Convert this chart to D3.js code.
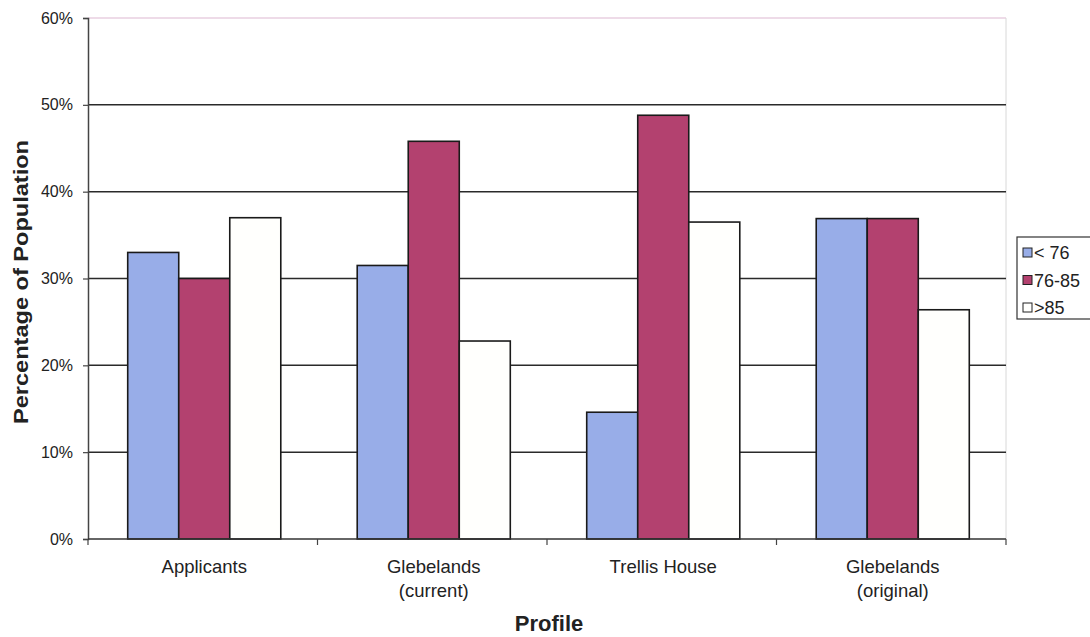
<!DOCTYPE html>
<html>
<head>
<meta charset="utf-8">
<script src="https://cdn.jsdelivr.net/npm/d3@7"></script>
<style>
  html, body { margin: 0; padding: 0; background: #ffffff; }
  svg { display: block; font-family: "Liberation Sans", Arial, sans-serif; }
</style>
</head>
<body>
<svg id="chart" width="1090" height="637"></svg>
<script>
// Population age profile by site
const categories = [["Applicants"], ["Glebelands", "(current)"], ["Trellis House"], ["Glebelands", "(original)"]];
const seriesNames = ["< 76", "76-85", ">85"];
const under76 = [33.0, 31.5, 14.6, 36.9];
const age76to85 = [30.0, 45.8, 48.8, 36.9];
const over85 = [37.0, 22.8, 36.5, 26.4];
const yTicks = [0, 10, 20, 30, 40, 50, 60];

const colors = ["#98ade8", "#b3416f", "#fffffd"];
const seriesValues = [under76, age76to85, over85];

const svg = d3.select("#chart");
const plot = { left: 88, right: 1006, top: 18, bottom: 539 };

const catKeys = categories.map(c => c.join(" "));
const x0 = d3.scaleBand().domain(catKeys).range([plot.left, plot.right]).padding(0);
const groupW = x0.bandwidth() * 0.667;
const x1 = d3.scaleBand().domain(seriesNames).range([0, groupW]).padding(0);
const y = d3.scaleLinear().domain([0, 60]).range([plot.bottom, plot.top]);

// plot frame: faint top and right edges
svg.append("line").attr("x1", plot.left).attr("x2", plot.right)
  .attr("y1", plot.top).attr("y2", plot.top)
  .attr("stroke", "#e8cfe0").attr("stroke-width", 1.5);
svg.append("line").attr("x1", plot.right).attr("x2", plot.right)
  .attr("y1", plot.top).attr("y2", plot.bottom)
  .attr("stroke", "#d8d8d8").attr("stroke-width", 1);

// horizontal gridlines
svg.append("g").selectAll("line")
  .data(yTicks.filter(t => t > 0 && t < 60))
  .join("line")
  .attr("x1", plot.left).attr("x2", plot.right)
  .attr("y1", d => y(d)).attr("y2", d => y(d))
  .attr("stroke", "#2a2a2a").attr("stroke-width", 1.5);

// bars
const groups = svg.append("g").selectAll("g")
  .data(catKeys)
  .join("g")
  .attr("transform", d => `translate(${x0(d) + (x0.bandwidth() - groupW) / 2 + 1.5},0)`);

groups.selectAll("rect")
  .data((d, i) => seriesNames.map((s, j) => ({ s, j, v: seriesValues[j][i] })))
  .join("rect")
  .attr("x", d => x1(d.s))
  .attr("width", x1.bandwidth())
  .attr("y", d => y(d.v))
  .attr("height", d => y(0) - y(d.v))
  .attr("fill", d => colors[d.j])
  .attr("stroke", "#1a1a1a")
  .attr("stroke-width", 1.6);

// y axis
const yAxis = d3.axisLeft(y).tickValues(yTicks).tickFormat(d => d + "%").tickSize(5).tickPadding(10);
const gy = svg.append("g").attr("transform", `translate(${plot.left},0)`).call(yAxis);
gy.attr("font-size", null).attr("font-family", null);
gy.select(".domain").attr("stroke", "#444").attr("stroke-width", 1.5);
gy.selectAll(".tick line").attr("stroke", "#444").attr("stroke-width", 1.2);
gy.selectAll(".tick text").attr("font-size", 16).attr("fill", "#222");

// x axis baseline and category separators
svg.append("line").attr("x1", plot.left).attr("x2", plot.right)
  .attr("y1", plot.bottom).attr("y2", plot.bottom)
  .attr("stroke", "#333").attr("stroke-width", 1.5);
svg.append("g").selectAll("line")
  .data(catKeys.concat(["end"]))
  .join("line")
  .attr("x1", (d, i) => plot.left + i * x0.bandwidth())
  .attr("x2", (d, i) => plot.left + i * x0.bandwidth())
  .attr("y1", plot.bottom).attr("y2", plot.bottom + 6)
  .attr("stroke", "#444").attr("stroke-width", 1.2);

// category labels
const catLabels = svg.append("g").selectAll("text")
  .data(categories)
  .join("text")
  .attr("x", (d, i) => x0(catKeys[i]) + x0.bandwidth() / 2 + 1.5)
  .attr("y", 573)
  .attr("text-anchor", "middle")
  .attr("font-size", 18.5)
  .attr("fill", "#222");
catLabels.selectAll("tspan")
  .data(d => d)
  .join("tspan")
  .attr("x", function () { return this.parentNode.getAttribute("x"); })
  .attr("dy", (d, i) => i === 0 ? 0 : 24)
  .text(d => d);

// axis titles
svg.append("text")
  .attr("x", 549).attr("y", 631)
  .attr("text-anchor", "middle").attr("font-size", 22).attr("font-weight", "bold")
  .attr("fill", "#222").text("Profile");
svg.append("text")
  .attr("transform", `translate(28,282) rotate(-90)`)
  .attr("text-anchor", "middle").attr("font-size", 20).attr("font-weight", "bold")
  .attr("textLength", 284).attr("lengthAdjust", "spacingAndGlyphs")
  .attr("fill", "#222").text("Percentage of Population");

// legend
const legend = svg.append("g").attr("transform", "translate(1017,237)");
legend.append("rect").attr("x", 0).attr("y", 0).attr("width", 80).attr("height", 82)
  .attr("fill", "#fff").attr("stroke", "#333").attr("stroke-width", 1.2);
const items = legend.selectAll("g.item")
  .data(seriesNames)
  .join("g").attr("class", "item")
  .attr("transform", (d, i) => `translate(6,${15 + i * 27.5})`);
items.append("rect").attr("x", 0).attr("y", -4).attr("width", 9).attr("height", 9)
  .attr("fill", (d, i) => colors[i]).attr("stroke", "#222").attr("stroke-width", 1);
items.append("text").attr("x", 11).attr("y", 7)
  .attr("font-size", 18).attr("fill", "#222").text(d => d);
</script>
</body>
</html>
